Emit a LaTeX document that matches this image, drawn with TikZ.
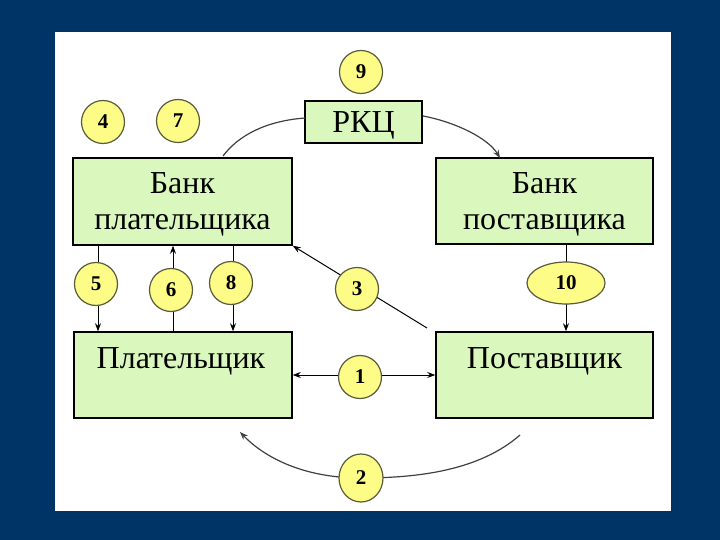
\documentclass[tikz,border=0pt]{standalone}
\usepackage{fontspec}
\setmainfont{Liberation Serif}
\usetikzlibrary{arrows.meta,shapes.geometric}
\definecolor{navybg}{RGB}{0,51,102}
\definecolor{boxgreen}{RGB}{218,248,190}
\definecolor{circyellow}{RGB}{252,252,135}
\definecolor{circline}{RGB}{90,90,60}
\tikzset{
  box/.style={draw=black,line width=1.5pt,fill=boxgreen,inner sep=0pt},
  boxtext/.style={font=\fontsize{32}{36}\selectfont,align=center,inner sep=0pt},
  num/.style={ellipse,draw=circline,line width=1.2pt,fill=circyellow,inner sep=0pt,
    minimum width=43pt,minimum height=43pt,font=\fontsize{21}{21}\selectfont\bfseries},
  conn/.style={line width=1pt,draw=black},
  arr/.style={conn,-{Stealth[length=8pt,width=6pt]}},
  curv/.style={line width=1.2pt,draw=black!75},
}
\begin{document}
\begin{tikzpicture}[x=1pt,y=-1pt]
\useasboundingbox (0,0) rectangle (720,540);
\fill[navybg] (0,0) rectangle (720,540);
\fill[white] (55,32) rectangle (671,511);

% boxes
\node[box,minimum width=219pt,minimum height=87pt] (BP) at (182.5,201.5) {};
\node[boxtext] (BPt) at (182.5,204) {Банк\\плательщика};
\node[box,minimum width=117pt,minimum height=42pt] (R) at (363.5,122) {};
\node[boxtext,font=\fontsize{32}{32}\selectfont,anchor=base] (Rt) at (363.5,133) {РКЦ};
\node[box,minimum width=217pt,minimum height=86pt] (BS) at (544.5,201) {};
\node[boxtext] (BSt) at (544.5,204) {Банк\\поставщика};
\node[box,minimum width=218pt,minimum height=86pt] (PY) at (183,375) {};
\node[boxtext,anchor=base] (PYt) at (181,368) {Плательщик};
\node[box,minimum width=217pt,minimum height=86pt] (SP) at (544.5,375) {};
\node[boxtext,anchor=base] (SPt) at (544.5,368) {Поставщик};

% coordinates
\coordinate (x5) at (98,0);
\coordinate (x6) at (173,0);
\coordinate (x8) at (233,0);
\coordinate (x10) at (566,0);
\coordinate (s3) at (427,328);
\coordinate (rl) at (305,118);
\coordinate (bpt) at (223,156);
\coordinate (rr) at (423,116);
\coordinate (bst) at (500,158);
\coordinate (a2s) at (520,435);
\coordinate (a2m) at (361,478);
\coordinate (a2e) at (240,432);

% connectors
\draw[arr] (x5 |- BP.south) -- (x5 |- PY.north);
\draw[arr] (x6 |- PY.north) -- (x6 |- BP.south);
\draw[arr] (x8 |- BP.south) -- (x8 |- PY.north);
\draw[arr] (x10 |- BS.south) -- (x10 |- SP.north);
\draw[conn,{Stealth[length=8pt,width=6pt]}-{Stealth[length=8pt,width=6pt]}] (PY.east) -- (SP.west);
\draw[arr] (s3) -- (BP.south east);
\draw[curv] (rl) .. controls (265,121) and (238,136) .. (bpt);
\draw[curv,-{Stealth[length=8pt,width=6pt]}] (rr) .. controls (455,122) and (488,138) .. (bst);
\draw[curv,-{Stealth[length=8pt,width=6pt]}] (a2s) .. controls (480,470) and (420,478) .. (a2m)
   .. controls (300,478) and (262,455) .. (a2e);

% numbered circles
\node[num] (n9) at (361,72) {9};
\node[num] (n4) at (103,122) {4};
\node[num] (n7) at (178,121) {7};
\node[num] (n5) at (96,284) {5};
\node[num] (n6) at (171,290) {6};
\node[num] (n8) at (231,283) {8};
\node[num] (n3) at (357,289) {3};
\node[num] (n1) at (360,377) {1};
\node[num,minimum width=78pt,minimum height=42pt] (n10) at (566,283) {10};
\node[num,minimum width=44pt,minimum height=48pt] (n2) at (361,478) {2};
\end{tikzpicture}
\end{document}
